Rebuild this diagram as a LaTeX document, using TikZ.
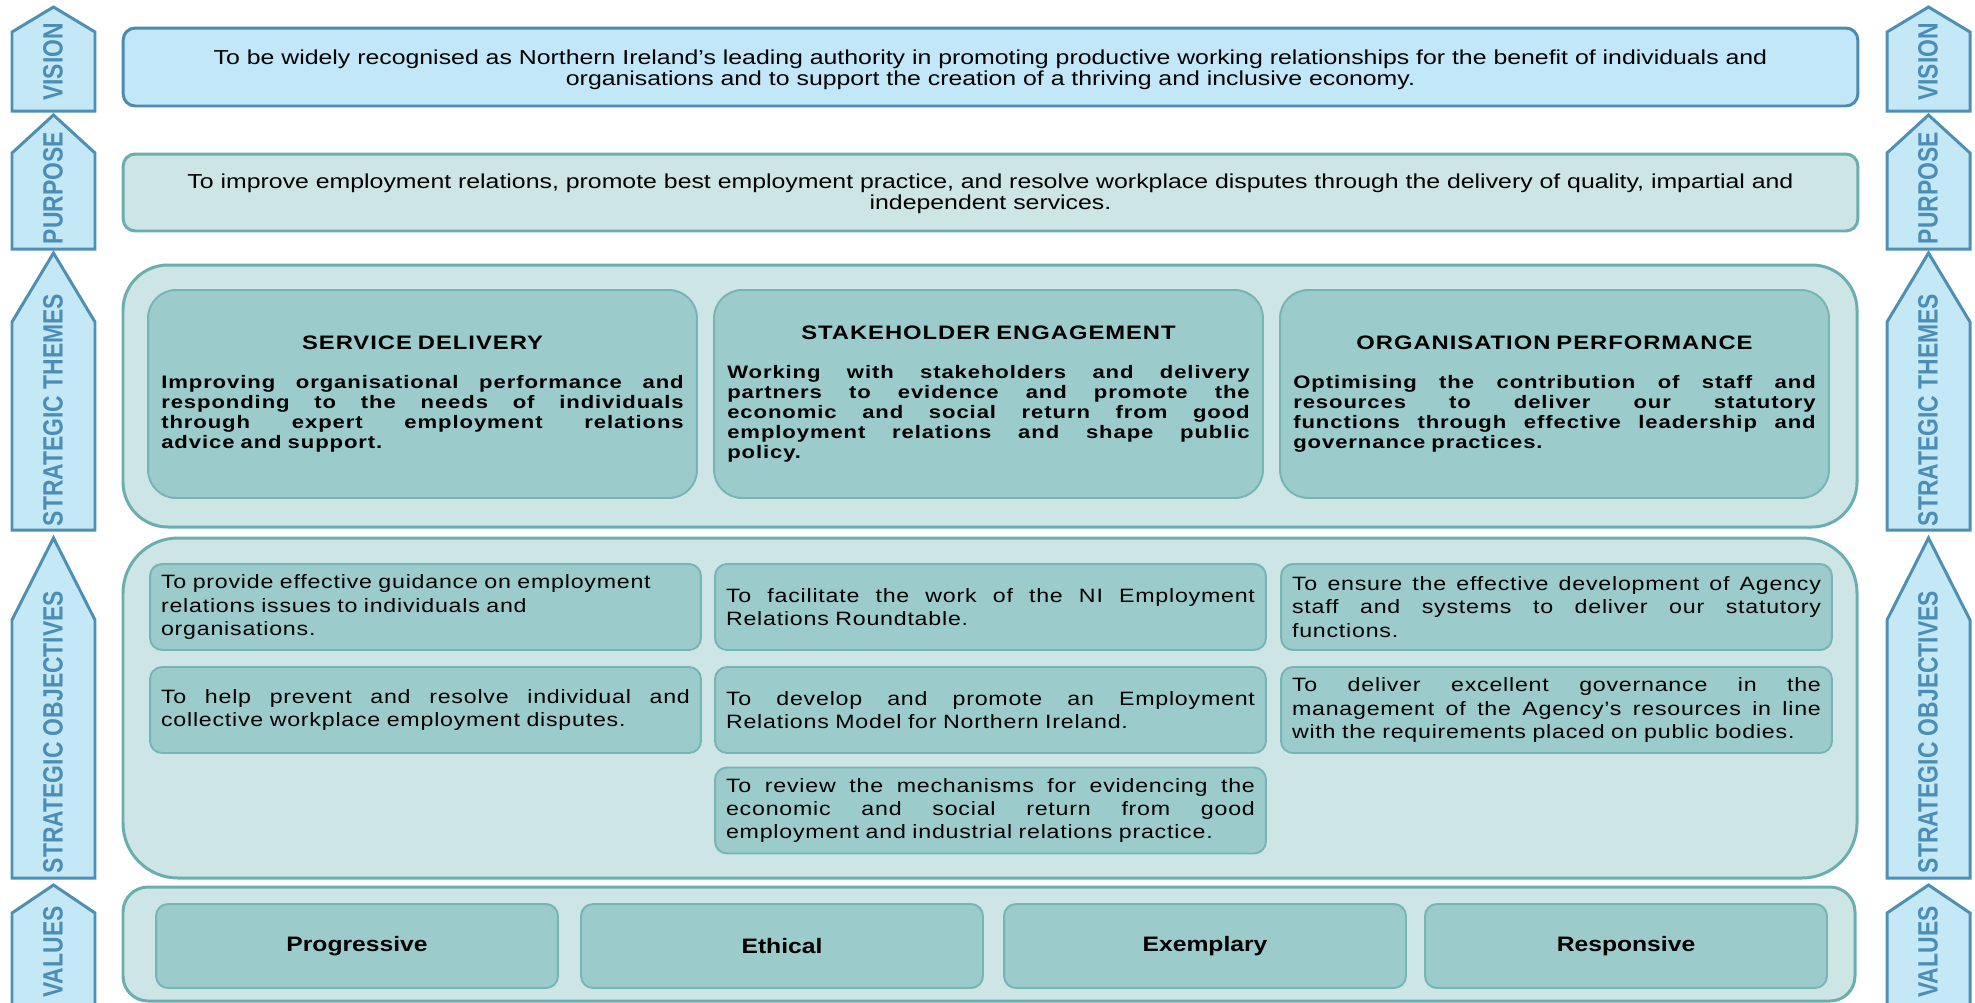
\documentclass[tikz,border=0pt]{standalone}
\usepackage{fontspec}
\setmainfont{Liberation Sans}
\newfontfamily\arrowfont{Liberation Sans}[FakeStretch=0.82]
\newfontfamily\widefont{Liberation Sans}[FakeStretch=1.23]
\newfontfamily\themefont{Liberation Sans}[FakeStretch=1.22,LetterSpace=5]
\newfontfamily\objfont{Liberation Sans}[FakeStretch=1.2,LetterSpace=4]
\newfontfamily\valuefont{Liberation Sans}[FakeStretch=1.18]

\definecolor{arrowfill}{HTML}{C5E8F7}
\definecolor{arrowline}{HTML}{4E8FB5}
\definecolor{arrowblue}{HTML}{4A8DB7}
\definecolor{visionfill}{HTML}{C2E7F8}
\definecolor{visionline}{HTML}{4A8CB1}
\definecolor{outerfill}{HTML}{CDE5E5}
\definecolor{outerline}{HTML}{6AAEAF}
\definecolor{innerfill}{HTML}{9BCBCB}
\definecolor{innerline}{HTML}{77B4B4}

% riga giustificata
\newcommand\fillline[1]{\makebox[\hsize][s]{\spaceskip=\fontdimen2\font plus 1fil\relax #1}}

\tikzset{
	arrowbox/.style={draw=arrowline, fill=arrowfill, line width=1.7pt},
	arrowlabel/.style={rotate=90, text=arrowblue, inner sep=0pt, font=\arrowfont\bfseries\fontsize{15.9}{16}\selectfont},
	topbox/.style={rounded corners=0.24cm, line width=1.7pt, minimum width=34.7cm},
	toptext/.style={align=center, font=\widefont\fontsize{11.5}{11.9}\selectfont},
	outerbox/.style={draw=outerline, fill=outerfill, line width=1.7pt},
	themebox/.style={draw=innerline, fill=innerfill, line width=1.1pt, rounded corners=0.56cm, minimum width=10.98cm, minimum height=4.16cm, text width=10.45cm, align=left, font=\themefont\bfseries\fontsize{10.3}{11.34}\selectfont},
	objbox/.style={draw=innerline, fill=innerfill, line width=1.1pt, rounded corners=0.24cm, minimum width=11.02cm, minimum height=1.72cm, text width=10.58cm, align=left, font=\objfont\fontsize{11}{13.2}\selectfont},
	valuebox/.style={draw=innerline, fill=innerfill, line width=1.1pt, rounded corners=0.24cm, minimum width=8.04cm, minimum height=1.68cm, font=\valuefont\bfseries\fontsize{11.9}{13}\selectfont}
}

\begin{document}
\begin{tikzpicture}[x=0.02cm, y=-0.02cm]
	\useasboundingbox (0,0) rectangle (1975,1002);
	\fill[white] (0,0) rectangle (1975,1002);

	% frecce laterali
	\foreach \ya/\ys/\yb/\yt/\lab in {7/32/111/62/VISION, 115/153/249/188/PURPOSE, 253/322/530/410/STRATEGIC THEMES, 538/620/878/732/STRATEGIC OBJECTIVES, 885/913/1010/952/VALUES}{
		\foreach \xl in {12,1887}{
			\draw[arrowbox] (\xl,\yb) -- (\xl,\ys) -- (\xl+41.5,\ya) -- (\xl+83,\ys) -- (\xl+83,\yb) -- cycle;
			\node[arrowlabel] (arrow-\xl-\yt) at (\xl+41,\yt) {\lab};
		}
	}

	% vision e purpose
	\node[topbox, draw=visionline, fill=visionfill, minimum height=1.56cm] (vision) at (990.5,67) {};
	\node[toptext] (visiontext) at (990.5,69.5) {To be widely recognised as Northern Ireland’s leading authority in promoting productive working relationships for the benefit of individuals and\\ organisations and to support the creation of a thriving and inclusive economy.};
	\node[topbox, draw=outerline, fill=outerfill, minimum height=1.54cm] (purpose) at (990.5,192.5) {};
	\node[toptext] (purposetext) at (990.5,194) {To improve employment relations, promote best employment practice, and resolve workplace disputes through the delivery of quality, impartial and\\ independent services.};

	% contenitori
	\draw[outerbox, rounded corners=0.9cm] (123,265) rectangle (1857,527);
	\draw[outerbox, rounded corners=1.1cm] (123,538) rectangle (1857,878);
	\draw[outerbox, rounded corners=0.5cm] (123,887) rectangle (1855,1001);

	% temi strategici
	\node[themebox] (service) at (422.5,394) {\makebox[\hsize][c]{\fontsize{11.1}{12}\selectfont SERVICE DELIVERY}\\[11pt]
		\fillline{Improving organisational performance and}\\
		\fillline{responding to the needs of individuals}\\
		\fillline{through expert employment relations}\\
		advice and support.};
	\node[themebox] (stakeholder) at (988.5,394) {\makebox[\hsize][c]{\fontsize{11.1}{12}\selectfont STAKEHOLDER ENGAGEMENT}\\[11pt]
		\fillline{Working with stakeholders and delivery}\\
		\fillline{partners to evidence and promote the}\\
		\fillline{economic and social return from good}\\
		\fillline{employment relations and shape public}\\
		policy.};
	\node[themebox] (organisation) at (1554.5,394) {\makebox[\hsize][c]{\fontsize{11.1}{12}\selectfont ORGANISATION PERFORMANCE}\\[11pt]
		\fillline{Optimising the contribution of staff and}\\
		\fillline{resources to deliver our statutory}\\
		\fillline{functions through effective leadership and}\\
		governance practices.};

	% obiettivi strategici
	\node[objbox] (guidance) at (425.5,607) {To provide effective guidance on employment\\ relations issues to individuals and\\ organisations.};
	\node[objbox] (disputes) at (425.5,710) {\fillline{To help prevent and resolve individual and}\\ collective workplace employment disputes.};
	\node[objbox] (roundtable) at (990.5,607) {\fillline{To facilitate the work of the NI Employment}\\ Relations Roundtable.};
	\node[objbox] (model) at (990.5,710) {\fillline{To develop and promote an Employment}\\ Relations Model for Northern Ireland.};
	\node[objbox] (review) at (990.5,810.5) {\fillline{To review the mechanisms for evidencing the}\\ \fillline{economic and social return from good}\\ employment and industrial relations practice.};
	\node[objbox] (staff) at (1556.5,607) {\fillline{To ensure the effective development of Agency}\\ \fillline{staff and systems to deliver our statutory}\\ functions.};
	\node[objbox] (governance) at (1556.5,710) {\fillline{To deliver excellent governance in the}\\ \fillline{management of the Agency’s resources in line}\\ with the requirements placed on public bodies.};

	% valori
	\node[valuebox] (progressive) at (357,946) {Progressive};
	\node[valuebox] (ethical) at (782,946) {Ethical};
	\node[valuebox] (exemplary) at (1205,946) {Exemplary};
	\node[valuebox] (responsive) at (1626,946) {Responsive};
\end{tikzpicture}
\end{document}
